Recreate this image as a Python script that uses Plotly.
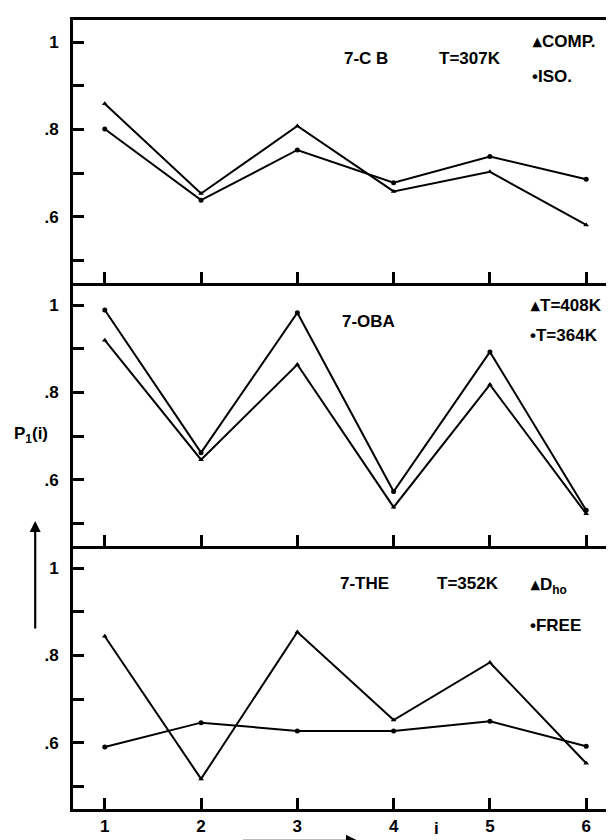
import plotly.graph_objects as go
from plotly.subplots import make_subplots

# ---- data ----
positions = [1, 2, 3, 4, 5, 6]
cb_comp = [0.859, 0.653, 0.808, 0.658, 0.703, 0.581]
cb_iso = [0.801, 0.638, 0.753, 0.678, 0.738, 0.686]
oba_408 = [0.920, 0.646, 0.864, 0.537, 0.818, 0.522]
oba_364 = [0.989, 0.662, 0.983, 0.573, 0.893, 0.530]
the_dho = [0.844, 0.517, 0.854, 0.652, 0.784, 0.553]
the_free = [0.590, 0.646, 0.627, 0.627, 0.649, 0.592]

y_tickvals = [0.5, 0.6, 0.7, 0.8, 0.9, 1.0]
y_ticktext = ["", ".6", "", ".8", "", "1"]
x_ticklabels = ["1", "2", "3", "4", "5", "6"]

W, H = 614, 840
L, R, T, B = 65, 2, 12, 39
PW, PH = W - L - R, H - T - B
FONT = "Liberation Sans, Arial, Helvetica, sans-serif"


def px(x):
    return (x - L) / PW


def py(y):
    return (H - B - y) / PH


fig = make_subplots(rows=3, cols=1, shared_xaxes=True, vertical_spacing=0)

line = dict(color="black", width=2)
panels = [
    (1, cb_comp, cb_iso, "COMP.", "ISO."),
    (2, oba_408, oba_364, "T=408K", "T=364K"),
    (3, the_dho, the_free, "Dho", "FREE"),
]
for row, tri, circ, n1, n2 in panels:
    fig.add_trace(go.Scatter(x=positions, y=tri, mode="lines+markers", name=n1,
                             line=line, marker=dict(symbol="triangle-up", size=5, color="black")),
                  row=row, col=1)
    fig.add_trace(go.Scatter(x=positions, y=circ, mode="lines+markers", name=n2,
                             line=line, marker=dict(symbol="circle", size=5, color="black")),
                  row=row, col=1)

for row in (1, 2, 3):
    fig.update_xaxes(range=[0.67, 6.32], tickvals=positions, ticktext=x_ticklabels,
                     ticks="inside", ticklen=11, tickwidth=2.5, tickcolor="black",
                     showline=True, linecolor="black", linewidth=3, mirror=(row == 1),
                     showgrid=False, zeroline=False,
                     showticklabels=(row == 3),
                     tickfont=dict(family=FONT, size=17, color="black", weight="bold"),
                     row=row, col=1)
    fig.update_yaxes(range=[0.448, 1.051], tickvals=y_tickvals, ticktext=y_ticktext,
                     ticks="inside", ticklen=11, tickwidth=2.5, tickcolor="black",
                     showline=True, linecolor="black", linewidth=3, mirror=True,
                     showgrid=False, zeroline=False, ticklabelstandoff=8,
                     tickfont=dict(family=FONT, size=17, color="black", weight="bold"),
                     row=row, col=1)

ann_font = dict(family=FONT, size=17, color="black", weight="bold")
texts = [
    ("7-C B", 335, 50), ("T=307K", 431, 50),
    ("\u25b4COMP.", 525, 33), ("\u2022ISO.", 525, 68),
    ("7-OBA", 333, 313),
    ("\u25b4T=408K", 523, 297), ("\u2022T=364K", 523, 327),
    ("7-THE", 331, 575), ("T=352K", 429, 575),
    ("\u25b4D<sub>ho</sub>", 523, 578), ("\u2022FREE", 523, 617),
    ("P<sub>1</sub>(i)", 4, 427),
]
for t, x, y in texts:
    fig.add_annotation(text=t, x=px(x), y=py(y), xref="paper", yref="paper",
                       xanchor="left", yanchor="middle", showarrow=False, font=ann_font)

fig.add_annotation(text="i", x=px(426), y=py(832), xref="paper", yref="paper",
                   xanchor="left", yanchor="bottom", showarrow=False, font=ann_font)

# axis direction arrows
fig.add_annotation(x=px(27), y=py(513), xref="paper", yref="paper", ax=0, ay=109,
                   showarrow=True, arrowhead=2, arrowsize=1, arrowwidth=2.2,
                   arrowcolor="black", text="")
fig.add_annotation(x=px(352), y=py(833), xref="paper", yref="paper", ax=-117, ay=0,
                   showarrow=True, arrowhead=2, arrowsize=1, arrowwidth=2.5,
                   arrowcolor="black", text="")

fig.update_layout(width=W, height=H, margin=dict(l=L, r=R, t=T, b=B),
                  plot_bgcolor="white", paper_bgcolor="white", showlegend=False,
                  font=dict(family=FONT, color="black"))

fig.write_html("out.html")
